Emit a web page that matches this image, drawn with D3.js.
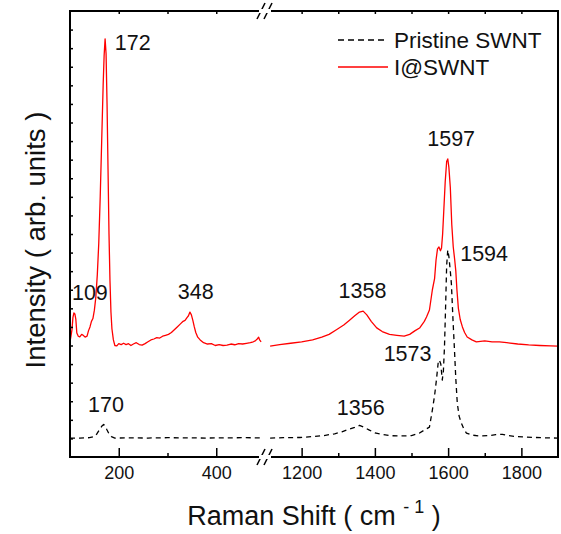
<!DOCTYPE html>
<html><head><meta charset="utf-8">
<script src="https://cdn.jsdelivr.net/npm/d3@7/dist/d3.min.js"></script>
<style>html,body{margin:0;padding:0;background:#fff;} svg{display:block;font-family:"Liberation Sans",Arial,sans-serif;}</style>
</head><body>
<svg id="c" width="561" height="534"></svg>
<script>
// ---------- data ----------
const seriesNames = ["Pristine SWNT", "I@SWNT"];
const leftDomain = [100, 500];
const rightDomain = [1100, 1900];
const leftMajorTicks = [200, 400];
const leftMinorTicks = [300];
const rightMajorTicks = [1200, 1400, 1600, 1800];
const rightMinorTicks = [1300, 1500, 1700];
const yTicks = d3.range(1, 24);

// I@SWNT, low-frequency segment
const redLeftX = [100,102,104,106,108,110,112,114,117,120,124,127,131,135,138,141,144,147,150,153,156,159,162,165,168,170,172,174,176,178,180,182,184,186,189,192,196,200,205,210,215,220,225,230,236,242,248,254,260,266,272,278,284,290,296,302,308,314,320,326,332,336,340,343,346,349,352,355,358,362,367,374,382,390,398,406,414,422,430,438,446,454,462,470,476,480,484,487,489,492];
const redLeftY = [6.19,6.5,6.84,7.5,7.75,7.7,7.4,6.67,6.5,6.46,6.6,6.55,6.45,6.5,6.8,7.0,7.3,7.45,7.9,8.6,9.8,11.5,14.0,17.0,20.0,21.6,22.5,21.7,19.0,15.5,12.0,9.5,7.8,6.9,6.3,6.0,5.98,6.1,6.05,6.12,6.05,6.1,6.0,6.08,6.15,6.05,6.02,6.1,6.2,6.3,6.35,6.42,6.4,6.5,6.55,6.6,6.7,6.85,7.0,7.15,7.3,7.35,7.5,7.6,7.8,7.65,7.35,7.0,6.7,6.45,6.3,6.15,6.08,6.1,6.0,6.05,6.0,6.02,6.08,6.04,6.1,6.08,6.12,6.15,6.2,6.25,6.35,6.45,6.3,6.2];
// I@SWNT, high-frequency segment
const redRightX = [1114,1140,1170,1200,1230,1255,1275,1295,1315,1330,1345,1358,1368,1378,1390,1405,1420,1440,1460,1480,1495,1510,1522,1535,1541,1549,1557,1563,1567,1571,1575,1579,1582,1585,1588,1592,1596,1599,1602,1606,1610,1614,1618,1621,1624,1628,1633,1639,1645,1652,1665,1677,1700,1720,1740,1760,1790,1820,1850,1880,1900];
const redRightY = [5.97,6.05,6.12,6.2,6.3,6.45,6.6,6.85,7.1,7.35,7.6,7.8,7.85,7.65,7.3,6.95,6.75,6.6,6.55,6.5,6.6,6.8,6.94,7.3,7.53,7.91,9.0,9.6,10.6,11.2,11.3,11.1,11.25,12.0,13.2,14.8,15.9,16.04,15.6,14.5,12.5,11.3,10.6,10.0,9.0,8.0,7.4,7.0,6.7,6.46,6.3,6.2,6.25,6.2,6.2,6.15,6.08,6.03,6.0,5.98,5.97];
// Pristine SWNT, low-frequency segment
const blackLeftX = [100,120,140,150,155,160,165,169,172,176,180,185,192,220,260,300,340,380,420,460,492];
const blackLeftY = [1.02,1.02,1.04,1.1,1.24,1.45,1.65,1.75,1.68,1.45,1.25,1.1,1.02,1.03,1.02,1.04,1.03,1.02,1.03,1.04,1.03];
// Pristine SWNT, high-frequency segment
const blackRightX = [1114,1150,1195,1230,1260,1290,1310,1330,1345,1358,1370,1385,1400,1413,1440,1470,1500,1522,1535,1549,1557,1563,1568,1573,1576,1580,1584,1587,1590,1593,1596,1599,1602,1606,1609,1613,1617,1621,1625,1630,1636,1643,1650,1665,1685,1710,1730,1748,1765,1785,1803,1840,1870,1900];
const blackRightY = [1.02,1.04,1.05,1.1,1.15,1.25,1.35,1.5,1.6,1.7,1.6,1.45,1.3,1.24,1.15,1.13,1.15,1.29,1.45,1.61,2.53,3.3,4.14,5.1,5.22,5.0,4.14,4.6,5.9,8.0,10.3,11.14,10.8,10.0,9.3,7.5,5.9,4.2,2.9,2.2,1.83,1.5,1.29,1.18,1.13,1.15,1.2,1.22,1.15,1.1,1.08,1.05,1.03,1.02];

// peak annotations: text, wavenumber anchor (left edge), intensity anchor (baseline), segment
const annText = ["172","109","348","170","1358","1597","1594","1573","1356"];
const annX    = [192, 104, 321, 137, 1301, 1543, 1633, 1424, 1296];
const annY    = [21.9, 8.45, 8.5, 2.42, 8.56, 16.74, 10.55, 5.17, 2.26];
const annSeg  = ["L","L","L","L","R","R","R","R","R"];

// ---------- layout ----------
const L = 70, R = 558, T = 11, B = 457, BRK = 265;
const svg = d3.select("#c");
const xL = d3.scaleLinear().domain(leftDomain).range([L, BRK]);
const xR = d3.scaleLinear().domain(rightDomain).range([BRK, R]);
const y = d3.scaleLinear().domain([0, 24]).range([B, T]);

const zip = (xs, ys) => xs.map((v, i) => [v, ys[i]]);
function drawLine(xs, ys, xs_scale, color, dash) {
  svg.append("path")
    .datum(zip(xs, ys))
    .attr("fill", "none")
    .attr("stroke", color)
    .attr("stroke-width", 1.3)
    .attr("stroke-linejoin", "round")
    .attr("stroke-dasharray", dash || null)
    .attr("d", d3.line().x(d => xs_scale(d[0])).y(d => y(d[1])));
}
drawLine(blackLeftX, blackLeftY, xL, "#000", "5,4");
drawLine(blackRightX, blackRightY, xR, "#000", "5,4");
drawLine(redLeftX, redLeftY, xL, "#ff0000");
drawLine(redRightX, redRightY, xR, "#ff0000");

// ---------- axes ----------
function styleAxis(g) {
  g.select(".domain").remove();
  g.selectAll(".tick line").attr("stroke", "#000").attr("stroke-width", 1.5);
  g.selectAll(".tick text").attr("font-family", '"Liberation Sans",Arial,sans-serif').attr("font-size", 18).attr("fill", "#111");
}
[[xL, leftMajorTicks, leftMinorTicks], [xR, rightMajorTicks, rightMinorTicks]].forEach(([sc, maj, mnr]) => {
  svg.append("g").attr("transform", `translate(0,${B})`)
    .call(d3.axisBottom(sc).tickValues(maj).tickSize(-9).tickPadding(9).tickFormat(d3.format("d")))
    .call(styleAxis);
  svg.append("g").attr("transform", `translate(0,${B})`)
    .call(d3.axisBottom(sc).tickValues(mnr).tickSize(-4).tickFormat(""))
    .call(styleAxis);
  svg.append("g").attr("transform", `translate(0,${T})`)
    .call(d3.axisTop(sc).tickValues(maj.concat(mnr)).tickSize(-3).tickFormat(""))
    .call(styleAxis);
});
svg.append("g").attr("transform", `translate(${L},0)`)
  .call(d3.axisLeft(y).tickValues(yTicks).tickSize(-3).tickFormat(""))
  .call(styleAxis);

// frame with breaks
const fr = svg.append("g").attr("stroke", "#000").attr("stroke-width", 2).attr("fill", "none");
fr.append("line").attr("x1", L).attr("x2", L).attr("y1", T).attr("y2", B);
fr.append("line").attr("x1", R).attr("x2", R).attr("y1", T).attr("y2", B);
[T, B].forEach(yy => {
  fr.append("line").attr("x1", L - 1).attr("x2", BRK - 6).attr("y1", yy).attr("y2", yy);
  fr.append("line").attr("x1", BRK + 6).attr("x2", R + 1).attr("y1", yy).attr("y2", yy);
  svg.append("rect").attr("x", BRK - 6).attr("y", yy - 2).attr("width", 12).attr("height", 4).attr("fill", "#fff");
  [-4, 3].forEach(o => {
    fr.append("line").attr("x1", BRK + o - 4).attr("y1", yy + 8).attr("x2", BRK + o + 4).attr("y2", yy - 8).attr("stroke-width", 1.6);
  });
});

// ---------- annotations ----------
annText.forEach((t, i) => {
  const sc = annSeg[i] === "L" ? xL : xR;
  svg.append("text").attr("x", sc(annX[i])).attr("y", y(annY[i]))
    .attr("font-size", 21.5).attr("fill", "#111").text(t);
});

// ---------- legend ----------
const lg = svg.append("g");
[["#000", "6,4", 40], ["#ff0000", null, 67]].forEach(([c, d, yy], i) => {
  lg.append("line").attr("x1", 338).attr("x2", 388).attr("y1", yy).attr("y2", yy)
    .attr("stroke", c).attr("stroke-width", 1.3).attr("stroke-dasharray", d);
  lg.append("text").attr("x", 394).attr("y", yy + 8).attr("font-size", 22.5).attr("fill", "#111").text(seriesNames[i]);
});

// ---------- titles ----------
const xt = svg.append("text").attr("x", (L + R) / 2).attr("y", 525).attr("text-anchor", "middle")
  .attr("font-size", 27).attr("fill", "#111");
xt.append("tspan").text("Raman Shift ( cm ");
xt.append("tspan").attr("font-size", 18).attr("dy", -12).text("- 1");
xt.append("tspan").attr("dy", 12).text(" )");

svg.append("text").attr("transform", `translate(45,240) rotate(-90)`)
  .attr("text-anchor", "middle").attr("font-size", 27.5).attr("fill", "#111")
  .text("Intensity ( arb. units )");
</script>
</body></html>
